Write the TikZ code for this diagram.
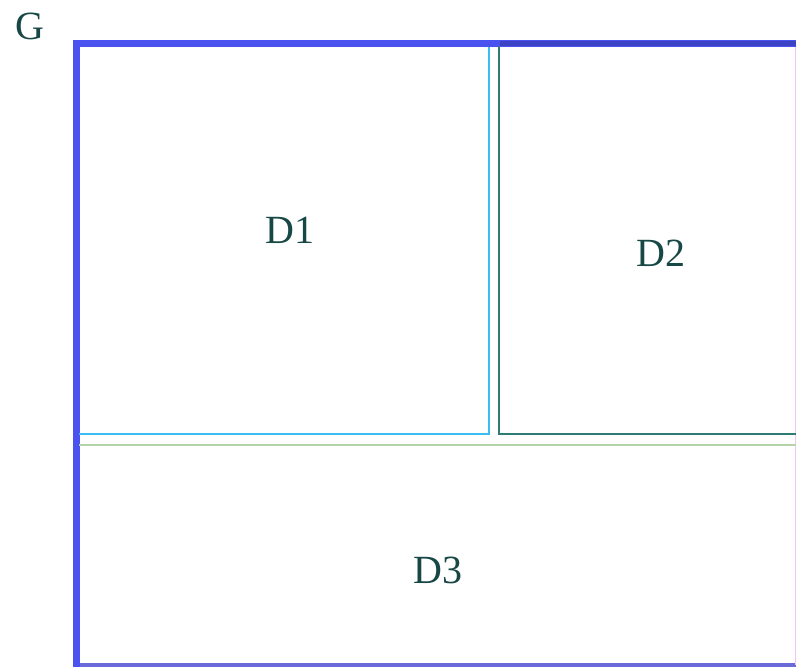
\documentclass[tikz,border=0pt]{standalone}
\usepackage{fontspec}
\setmainfont{Liberation Serif}
\definecolor{gblue}{HTML}{4A52F0}
\definecolor{gbottom}{HTML}{6A6AD8}
\definecolor{dcyan}{HTML}{38BEF0}
\definecolor{dteal}{HTML}{2E7C74}
\definecolor{dgreen}{HTML}{B4D4A8}
\definecolor{edgepink}{HTML}{F4C4F4}
\definecolor{txt}{HTML}{184846}
\tikzset{
  lbl/.style={font=\fontsize{40}{40}\selectfont, text=txt, inner sep=0pt},
  outerline/.style={draw=gblue, line width=7pt},
}
\begin{document}
\begin{tikzpicture}[x=1pt,y=-1pt]
\useasboundingbox[fill=white] (0,0) rectangle (796,669);
% outer region G
\draw[gbottom, line width=4.5pt] (74,665) -- (800,665);
\draw[edgepink, line width=1.5pt] (795.5,44) -- (795.5,665);
\draw[outerline] (800,44) -- (76,44) -- (76,667);
% D1
\draw[dcyan, line width=2pt] (79,434.3) -- (489.3,434.3) -- (489.3,47);
% D2
\draw[dteal, line width=2pt] (499.3,46) -- (499.3,434.3) -- (796,434.3);
\draw[gblue!82!black, line width=5pt] (500,44) -- (796,44);
% D3
\draw[dgreen, line width=1.5pt] (79,445) -- (796,445);
% labels
\node[lbl] (g) at (30,26) {G};
\node[lbl] (d1) at (290,230) {D1};
\node[lbl] (d2) at (661,253) {D2};
\node[lbl] (d3) at (438,570) {D3};
\end{tikzpicture}
\end{document}
